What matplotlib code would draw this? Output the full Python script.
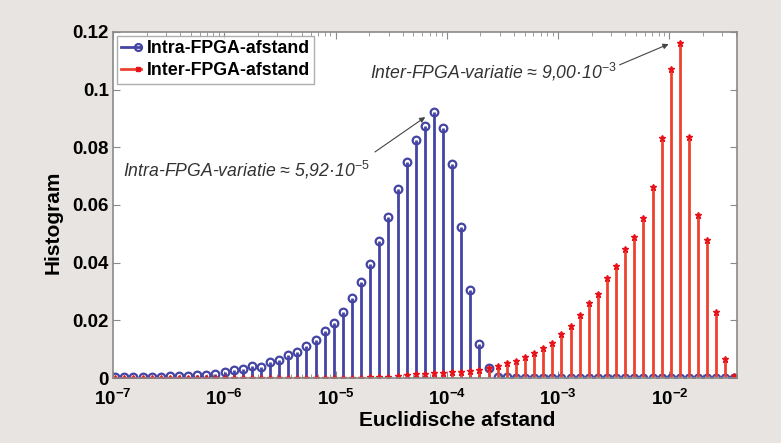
import numpy as np
import matplotlib
matplotlib.use("Agg")
import matplotlib.pyplot as plt
from matplotlib.lines import Line2D
from matplotlib.legend_handler import HandlerBase
from matplotlib.ticker import FixedLocator, LogLocator, NullFormatter

plt.rcParams['font.family'] = ['Liberation Sans', 'DejaVu Sans']
plt.rcParams['mathtext.fontset'] = 'custom'
plt.rcParams['mathtext.rm'] = 'Liberation Sans'
plt.rcParams['mathtext.it'] = 'Liberation Sans:italic'
plt.rcParams['mathtext.bf'] = 'Liberation Sans:bold'

# bin centres (log10 of Euclidean distance), 69 log-spaced bins
log_lo, log_hi, n_bins = -6.98, -1.415, 69

intra = [0.0003, 0.0003, 0.0003, 0.0004, 0.0004, 0.0005, 0.0006, 0.0007, 0.0008, 0.0009,
         0.0012, 0.0015, 0.0022, 0.0027, 0.0032, 0.0040, 0.0037, 0.0057, 0.0063, 0.0079,
         0.0090, 0.0112, 0.0133, 0.0162, 0.0190, 0.0230, 0.0276, 0.0334, 0.0394, 0.0476,
         0.0557, 0.0654, 0.0750, 0.0825, 0.0874, 0.0924, 0.0866, 0.0742, 0.0525, 0.0305,
         0.0118, 0.0034, 0.0005, 0.0002, 0.0001, 0.0001, 0.0001, 0.0001, 0.0001, 0.0001,
         0.0001, 0.0001, 0.0001, 0.0001, 0.0001, 0.0001, 0.0001, 0.0001, 0.0001, 0.0001,
         0.0001, 0.0001, 0.0001, 0.0001, 0.0001, 0.0001, 0.0001, 0.0001, 0.0001]

inter = [0.0001, 0.0001, 0.0001, 0.0001, 0.0001, 0.0001, 0.0001, 0.0001, 0.0001, 0.0001,
         0.0001, 0.0001, 0.0001, 0.0001, 0.0001, 0.0001, 0.0001, 0.0001, 0.0001, 0.0001,
         0.0001, 0.0001, 0.0001, 0.0001, 0.0001, 0.0001, 0.0001, 0.0001, 0.0002, 0.0003,
         0.0005, 0.0007, 0.0010, 0.0013, 0.0015, 0.0017, 0.0019, 0.0020, 0.0021, 0.0023,
         0.0028, 0.0033, 0.0043, 0.0053, 0.0059, 0.0072, 0.0088, 0.0105, 0.0122, 0.0154,
         0.0182, 0.0217, 0.0259, 0.0290, 0.0348, 0.0390, 0.0446, 0.0490, 0.0556, 0.0664,
         0.0831, 0.1071, 0.1163, 0.0837, 0.0565, 0.0479, 0.0230, 0.0066, 0.0008]

series_labels = ['Intra-FPGA-afstand', 'Inter-FPGA-afstand']
x_tick_exps = [-7, -6, -5, -4, -3, -2]
y_ticks = [0, 0.02, 0.04, 0.06, 0.08, 0.1, 0.12]
y_tick_labels = ['0', '0.02', '0.04', '0.06', '0.08', '0.1', '0.12']

x = np.logspace(log_lo, log_hi, n_bins)

fig = plt.figure(figsize=(7.81, 4.43), dpi=100, facecolor='#e7e4e1')
ax = fig.add_axes([0.1447, 0.1467, 0.7986, 0.7811])
ax.set_facecolor('white')

blue = '#4444a4'
red = '#ee4230'
red_mk = '#e8121a'

ml, sl, bl = ax.stem(x, intra, linefmt='-', markerfmt='o', basefmt=' ')
plt.setp(sl, color=blue, linewidth=2.0)
plt.setp(ml, color=blue, markerfacecolor='none', markeredgecolor=blue, markersize=5.5, markeredgewidth=1.6)

ml2, sl2, bl2 = ax.stem(x, inter, linefmt='-', markerfmt='*', basefmt=' ')
plt.setp(sl2, color=red, linewidth=2.0)
plt.setp(ml2, color=red_mk, markersize=5, markeredgewidth=1.0)

ax.set_xscale('log')
ax.set_xlim(1e-7, 0.0403)
ax.set_ylim(0, 0.12)

ax.xaxis.set_major_locator(FixedLocator([10.0 ** e for e in x_tick_exps]))
ax.set_xticklabels([r'$\mathbf{10^{%d}}$' % e for e in x_tick_exps], fontsize=13.5)
ax.xaxis.set_minor_locator(LogLocator(base=10, subs=np.arange(2, 10), numticks=20))
ax.xaxis.set_minor_formatter(NullFormatter())
ax.set_yticks(y_ticks)
ax.set_yticklabels(y_tick_labels, fontsize=13.5, fontweight='bold')

ax.tick_params(which='both', direction='in', top=True, right=True, color='#8a8a8a')
ax.tick_params(axis='x', which='major', length=5, pad=8)
ax.tick_params(axis='y', which='major', length=5, pad=3)
ax.tick_params(which='minor', length=3)
for s in ax.spines.values():
    s.set_color('#8a8a8a')
    s.set_linewidth(1.2)

ax.set_xlabel('Euclidische afstand', fontsize=15, fontweight='bold')
ax.xaxis.set_label_coords(0.552, -0.095)
ax.set_ylabel('Histogram', fontsize=15, fontweight='bold')
ax.yaxis.set_label_coords(-0.080, 0.45)


class EndMarkerHandler(HandlerBase):
    def create_artists(self, legend, orig_handle, xdescent, ydescent, width, height, fontsize, trans):
        y = height / 2 - ydescent
        line = Line2D([-xdescent, width - xdescent], [y, y], color=orig_handle.get_color(),
                      linewidth=orig_handle.get_linewidth())
        mk = Line2D([width - xdescent - 2], [y], linestyle='none', marker=orig_handle.get_marker(),
                    markersize=orig_handle.get_markersize(),
                    markerfacecolor=orig_handle.get_markerfacecolor(),
                    markeredgecolor=orig_handle.get_markeredgecolor(),
                    markeredgewidth=orig_handle.get_markeredgewidth())
        line.set_transform(trans)
        mk.set_transform(trans)
        return [line, mk]


h1 = Line2D([], [], color=blue, linewidth=2.0, marker='o', markerfacecolor='none',
            markeredgecolor=blue, markersize=5, markeredgewidth=1.6)
h2 = Line2D([], [], color=red, linewidth=2.0, marker='s', markerfacecolor=red_mk,
            markeredgecolor=red_mk, markersize=3, markeredgewidth=1.0)
leg = ax.legend([h1, h2], series_labels, loc='upper left',
                prop={'weight': 'bold', 'size': 12.8},
                handler_map={Line2D: EndMarkerHandler()},
                frameon=True, fancybox=False, borderaxespad=0.2, handlelength=1.1,
                handletextpad=0.35, borderpad=0.25, labelspacing=0.3)
leg.get_frame().set_edgecolor('#9a9a9a')
leg.get_frame().set_linewidth(1.0)

ann_style = dict(fontsize=12.7, style='italic', color='#333333', va='center', ha='left')
arrow_style = dict(arrowstyle='-|>', color='#444444', lw=0.8, mutation_scale=8,
                   shrinkA=0, shrinkB=0)

ax.text(1.22e-7, 0.0721, r'Intra-FPGA-variatie ≈ 5,92·10$^{\mathit{-5}}$', **ann_style)
ax.annotate('', xy=(6.4e-5, 0.0905), xytext=(2.26e-5, 0.0784), arrowprops=arrow_style)

ax.text(2.04e-5, 0.1061, r'Inter-FPGA-variatie ≈ 9,00·10$^{\mathit{-3}}$', **ann_style)
ax.annotate('', xy=(9.84e-3, 0.1158), xytext=(3.57e-3, 0.1086), arrowprops=arrow_style)

fig.savefig('out.png', dpi=100, facecolor=fig.get_facecolor())
